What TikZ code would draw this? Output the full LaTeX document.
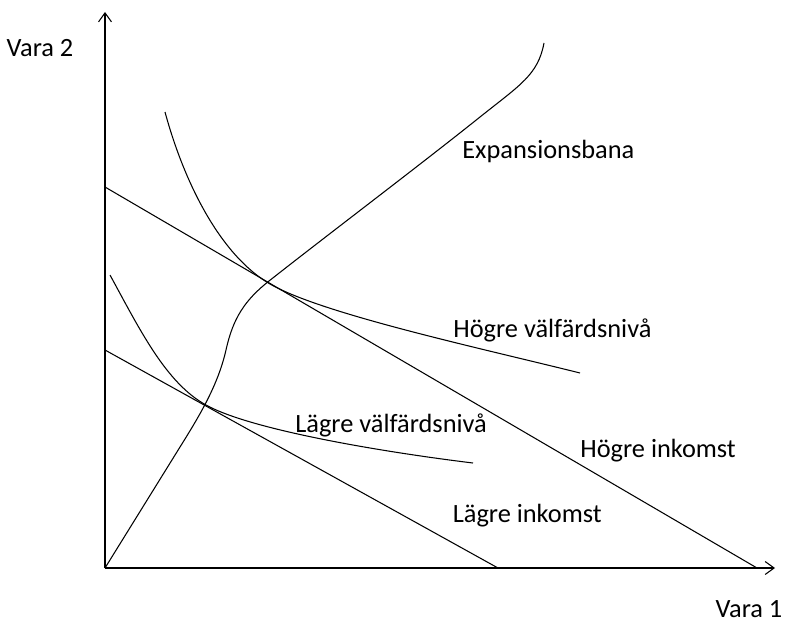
\documentclass[tikz,border=0pt]{standalone}
\usepackage{fontspec}
\setmainfont{Carlito}
\usetikzlibrary{arrows.meta}
\tikzset{
  axis/.style={line width=0.6pt,-{Straight Barb[length=1.8mm,width=2.6mm]}},
  curve/.style={line width=0.6pt},
  lbl/.style={font=\fontsize{15}{18}\selectfont,inner sep=0pt}
}
\begin{document}
\begin{tikzpicture}[x=0.2mm,y=-0.2mm]
\useasboundingbox (0,0) rectangle (788,623);
% axes
\coordinate (O) at (105,568);
\coordinate (ytop) at (105,12);
\coordinate (xend) at (775,568);
\draw[axis] (O) -- (ytop);
\draw[axis] (O) -- (xend);
\node[lbl] (v2) at (40,48) {Vara 2};
\node[lbl] (v1) at (749,609) {Vara 1};
% budget lines
\coordinate (hiA) at (105,187);
\coordinate (hiB) at (757,568);
\coordinate (loA) at (105,350);
\coordinate (loB) at (498,568);
\draw[curve] (hiA) -- (hiB);
\draw[curve] (loA) -- (loB);
% indifference curves, touching the lines at (hiT) and (loT)
\coordinate (hiT) at (270,284);
\coordinate (loT) at (206,405);
\draw[curve] (165,112) .. controls (184,182) and (220,255) .. (hiT)
  .. controls (322,314) and (480,348) .. (580,373);
\draw[curve] (110,275) .. controls (140,330) and (166,383) .. (loT)
  .. controls (251,430) and (383,452) .. (473,463);
% expansion path
\draw[curve] (O) -- (180,447) .. controls (200,415) and (218,385) .. (226,350)
  .. controls (233,318) and (245,300) .. (269,281)
  .. controls (330,233) and (420,165) .. (480,117)
  .. controls (520,85) and (538,75) .. (544,43);
% labels
\node[lbl,anchor=base west] (exp) at (462,158) {Expansionsbana};
\node[lbl,anchor=base west] (hv) at (453,337) {Högre välfärdsnivå};
\node[lbl,anchor=base west] (lv) at (295,432) {Lägre välfärdsnivå};
\node[lbl,anchor=base west] (hi) at (580,457) {Högre inkomst};
\node[lbl,anchor=base east] (li) at (602,522) {Lägre inkomst};
\end{tikzpicture}
\end{document}
